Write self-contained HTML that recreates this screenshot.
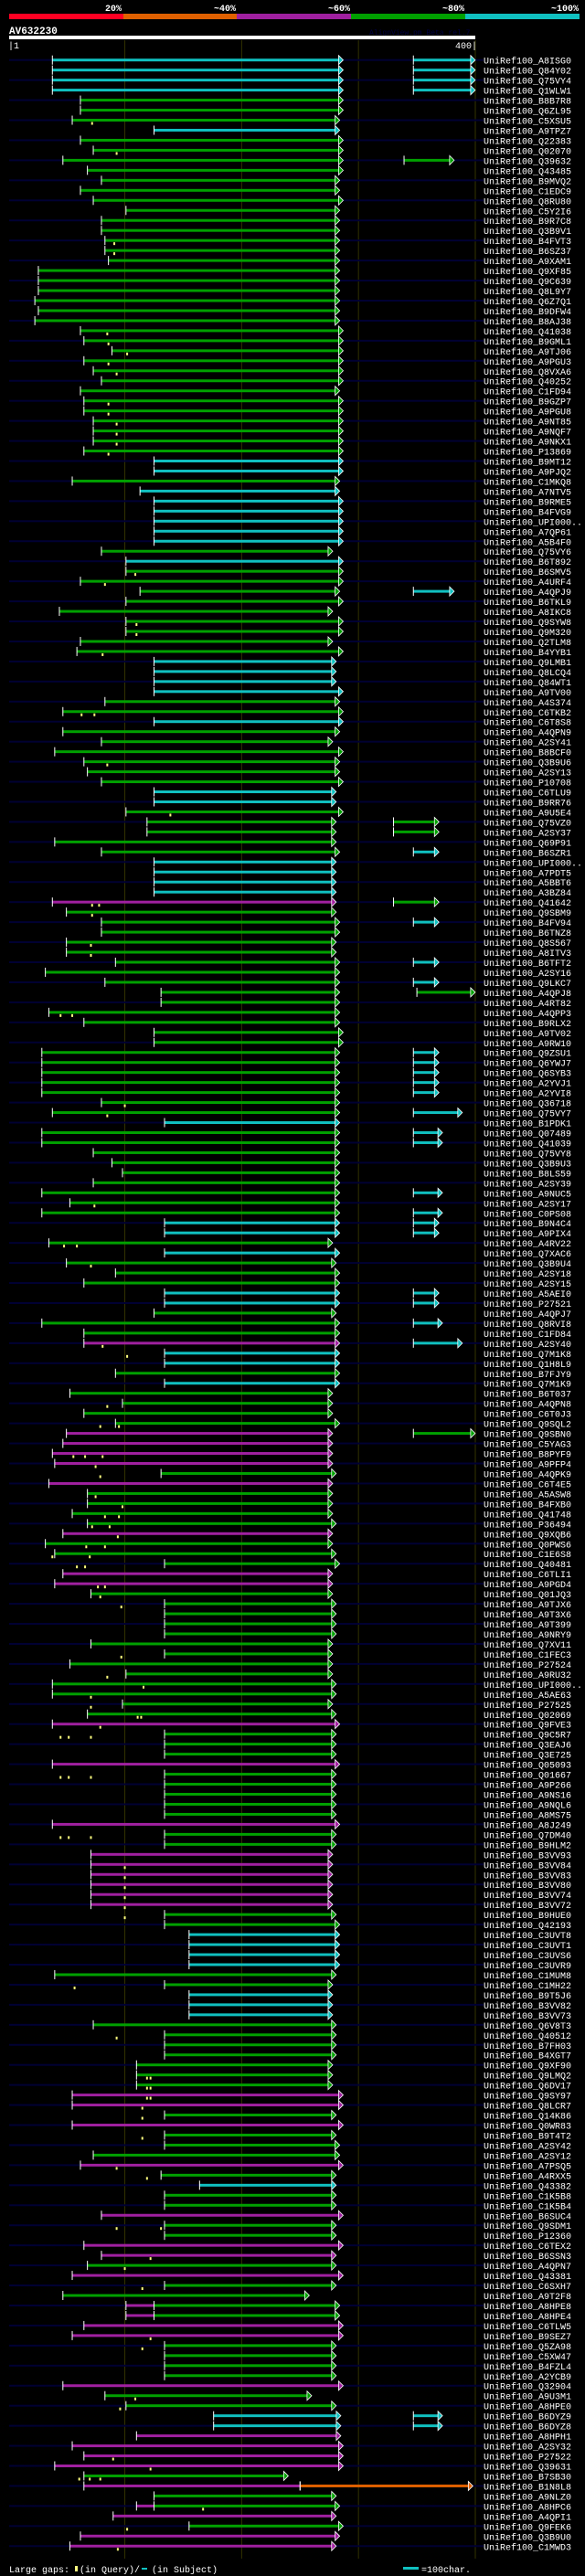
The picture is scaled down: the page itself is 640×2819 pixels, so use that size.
<!DOCTYPE html>
<html><head><meta charset="utf-8">
<style>
html,body{margin:0;padding:0;background:#000;}
body{width:640px;height:2819px;overflow:hidden;}
svg{display:block;}
text{font-family:"Liberation Mono",monospace;}
</style></head>
<body>
<svg id="chart" width="640" height="2819" viewBox="0 0 640 2819" xmlns="http://www.w3.org/2000/svg">
  <rect x="0" y="0" width="640" height="2819" fill="#000"/>
  <g>
    <rect x="10" y="15" width="125" height="6" fill="#ff0022"/>
    <rect x="135" y="15" width="124" height="6" fill="#e06000"/>
    <rect x="259" y="15" width="125" height="6" fill="#a020a0"/>
    <rect x="384" y="15" width="125" height="6" fill="#00a000"/>
    <rect x="509" y="15" width="125" height="6" fill="#10c0c0"/>
    <text x="133" y="12" fill="#fff" font-size="10" font-weight="bold" text-anchor="end">20%</text>
    <text x="258" y="12" fill="#fff" font-size="10" font-weight="bold" text-anchor="end">~40%</text>
    <text x="383" y="12" fill="#fff" font-size="10" font-weight="bold" text-anchor="end">~60%</text>
    <text x="508" y="12" fill="#fff" font-size="10" font-weight="bold" text-anchor="end">~80%</text>
    <text x="633" y="12" fill="#fff" font-size="10" font-weight="bold" text-anchor="end">~100%</text>
  </g>
  <text x="10" y="37" fill="#fff" font-size="11" font-weight="bold">AV632230</text>
  <text x="404" y="38" fill="#000044" font-size="8">AlignView.pm Beta rel.7</text>
  <rect x="10" y="39" width="510" height="4" fill="#fff"/>
  <text x="9" y="53" fill="#fff" font-size="10">|1</text>
  <text x="522" y="53" fill="#fff" font-size="10" text-anchor="end">400|</text>
  <g id="grid"></g>
  <g id="rows"></g>
  <g>
    <text x="10" y="2815" fill="#fff" font-size="10">Large gaps:</text>
    <rect x="82" y="2808" width="3" height="6" fill="#ffff80"/>
    <text x="87" y="2815" fill="#fff" font-size="10">(in Query)/</text>
    <rect x="155" y="2810" width="6" height="2" fill="#10c0c0"/>
    <text x="166" y="2815" fill="#fff" font-size="10">(in Subject)</text>
    <rect x="441" y="2809" width="17" height="3" fill="#10c0c0"/>
    <text x="461" y="2815" fill="#fff" font-size="10">=100char.</text>
  </g>
</svg>
<script>
const rowLabels = ["A8ISG0","Q84Y02","Q75VY4","Q1WLW1","B8B7R8","Q6ZL95","C5XSU5","A9TPZ7","Q22383","Q02070","Q39632","Q43485","B9MVQ2","C1EDC9","Q8RU80","C5Y2I6","B9R7C8","Q3B9V1","B4FVT3","B6SZ37","A9XAM1","Q9XF85","Q9C639","Q8L9Y7","Q6Z7Q1","B9DFW4","B8AJ38","Q41038","B9GML1","A9TJ06","A9PGU3","Q8VXA6","Q40252","C1FD94","B9GZP7","A9PGU8","A9NT85","A9NQF7","A9NKX1","P13869","B9MT12","A9PJQ2","C1MKQ8","A7NTV5","B9RME5","B4FVG9","UPI000..","A7QP61","A5B4F0","Q75VY6","B6T892","B6SMV5","A4URF4","A4QPJ9","B6TKL9","A8IKC8","Q9SYW8","Q9M320","Q2TLM8","B4YYB1","Q9LMB1","Q8LCQ4","Q84WT1","A9TV00","A4S374","C6TKB2","C6T8S8","A4QPN9","A2SY41","B8BCF0","Q3B9U6","A2SY13","P10708","C6TLU9","B9RR76","A9U5E4","Q75VZ0","A2SY37","Q69P91","B6SZR1","UPI000..","A7PDT5","A5BBT6","A3BZ84","Q41642","Q9SBM9","B4FV94","B6TNZ8","Q8S567","A8ITV3","B6TFT2","A2SY16","Q9LKC7","A4QPJ8","A4RT82","A4QPP3","B9RLX2","A9TV02","A9RW10","Q9ZSU1","Q6YWJ7","Q6SYB3","A2YVJ1","A2YVI8","Q36718","Q75VY7","B1PDK1","Q07489","Q41039","Q75VY8","Q3B9U3","B8LS59","A2SY39","A9NUC5","A2SY17","C0PS08","B9N4C4","A9PIX4","A4RV22","Q7XAC6","Q3B9U4","A2SY18","A2SY15","A5AEI0","P27521","A4QPJ7","Q8RVI8","C1FD84","A2SY40","Q7M1K8","Q1H8L9","B7FJY9","Q7M1K9","B6T037","A4QPN8","C6T0J3","Q9SQL2","Q9SBN0","C5YAG3","B8PYF9","A9PFP4","A4QPK9","C6T4E5","A5ASW8","B4FXB0","Q41748","P36494","Q9XQB6","Q0PWS6","C1E6S8","Q40481","C6TLI1","A9PGD4","Q01JQ3","A9TJX6","A9T3X6","A9T399","A9NRY9","Q7XV11","C1FEC3","P27524","A9RU32","UPI000..","A5AE63","P27525","Q02069","Q9FVE3","Q9C5R7","Q3EAJ6","Q3E725","Q05093","Q01667","A9P266","A9NS16","A9NQL6","A8MS75","A8J249","Q7DM40","B9HLM2","B3VV93","B3VV84","B3VV83","B3VV80","B3VV74","B3VV72","B9HUE0","Q42193","C3UVT8","C3UVT1","C3UVS6","C3UVR9","C1MUM8","C1MH22","B9T5J6","B3VV82","B3VV73","Q6V8T3","Q40512","B7FH03","B4XGT7","Q9XF90","Q9LMQ2","Q6DV17","Q9SY97","Q8LCR7","Q14K86","Q0WR83","B9T4T2","A2SY42","A2SY12","A7PSQ5","A4RXX5","Q43382","C1K5B8","C1K5B4","B6SUC4","Q9SDM1","P12360","C6TEX2","B6SSN3","A4QPN7","Q43381","C6SXH7","A9T2F8","A8HPE8","A8HPE4","C6TLW5","B9SEZ7","Q5ZA98","C5XW47","B4FZL4","A2YCB9","Q32904","A9U3M1","A8HPE0","B6DYZ9","B6DYZ8","A8HPH1","A2SY32","P27522","Q39631","B7SB30","B1N8L8","A9NLZ0","A8HPC6","A4QPI1","Q9FEK6","Q3B9U0","C1MWD3"];

const rowSegments = ["c38-283 c347-396","c38-283 c347-396","c38-283 c347-396","c38-283 c347-396","g62-283","g62-283","g55-280","c125-280","g62-283","g73-283","g47-283 g339-378","g68-283","g80-280","g62-280","g73-283","g101-280","g80-280","g80-280","g83-280","g83-280","g86-280","g26-280","g26-280","g26-280","g23-280","g26-280","g23-280","g62-283","g65-283","g89-283","g65-283","g73-283","g80-283","g62-280","g65-283","g65-283","g73-283","g73-283","g73-283","g65-283","c125-283","c125-283","g55-280","c113-280","c125-283","c125-283","c125-283","c125-283","c125-283","g80-274","c101-283","g101-283","g62-283","g113-280 c347-378","g101-283","g44-274","g101-283","g101-283","g62-274","g59-283","c125-277","c125-277","c125-277","c125-283","g83-280","g47-283","c125-283","g47-280","g80-274","g40-283","g65-280","g68-280","g80-283","c125-277","c125-277","g101-283","g119-277 g330-365","g119-277 g330-365","g40-277","g80-280 c347-365","c125-277","c125-277","c125-277","c125-277","m38-277 g330-365","g50-277","g80-280 c347-365","g80-280","g50-277","g50-277","g92-280 c347-365","g32-280","g83-280 c347-365","g131-280 g350-396","g131-280","g35-280","g65-280","g125-283","g125-283","g29-280 c347-365","g29-280 c347-365","g29-280 c347-365","g29-280 c347-365","g29-280 c347-365","g80-280","g38-280 c347-385","c134-280","g29-280 c347-368","g29-280 c347-368","g73-280","g89-280","g98-280","g73-280","g29-280 c347-368","g53-280","g29-280 c347-368","c134-280 c347-365","c134-280 c347-365","g35-274","c134-280","g50-277","g92-280","g65-280","c134-280 c347-365","c134-280 c347-365","g125-277","g29-280 c347-368","g65-280","m65-280 c347-385","c134-280","c134-280","g92-280","c134-280","g53-274","g98-274","g65-274","g92-280","m50-274 g347-396","m47-274","m38-274","m40-274","g131-277","m35-274","g68-274","g68-274","g55-274","g68-277","m47-274","g32-274","g40-277","g134-280","m47-274","m40-274","g71-274","g134-277","g134-277","g134-277","g134-277","g71-274","g134-274","g53-274","g101-274","g38-277","g38-277","g98-274","g68-277","m38-280","g134-277","g134-277","g134-277","m38-280","g134-277","g134-277","g134-277","g134-277","g134-277","m38-280","g134-277","g134-277","m71-274","m71-274","m71-274","m71-274","m71-274","m71-274","g134-277","g134-280","c155-280","c155-280","c155-280","c155-280","g40-277","g134-274","c155-274","c155-274","c155-274","g73-277","g134-277","g134-277","g134-277","g110-274","g110-274","g110-274","m55-283","m55-283","g134-277","m55-283","g134-277","g134-280","g73-280","m62-283","g131-277","c164-277","g134-277","g134-277","m80-283","g134-277","g134-277","m65-283","m80-277","g68-277","m55-283","g134-277","g47-254","m101-125 g125-280","m101-125 g125-280","m65-283","m55-283","g134-277","g134-277","g134-277","g134-277","m47-283","g83-256","g101-277","c176-281 c347-368","c176-281 c347-368","m110-281","m55-283","m65-283","m40-283","g65-236","m65-250 o250-394","g125-277","m110-125 g125-280","m90-277","g155-283","m62-280","m53-277"];

const rowGaps = ["","","","","","","72","","","93","","","","","","","","","91","91","","","","","","","","85","86","102","86","93","","","86","86","93","93","93","86","","","","","","","","","","","","109","83","","","","110","110","","81","","","","","","63 74","","","","","85","","","","","139","","","","","","","","","72 78","72","","","71","71","","","","","","45 55","","","","","","","","","100","85","","","","","","","","","74","","","","48 59","","71","","","","","","","","81","102","","","","","85","","79 95","","","56 66 81","75","79","","75","98","83 95","72 87","94","67 83","38 70","59 66","","77 83","79","97","","","","","97","","85","116","71","71","111 114","79","45 52 71","","","","45 52 71","","","","","","45 52 71","","","100","100","100","100","100","100","","","","","","","57","","","","","93","","","","119 122","119 122","119 122","115","115","","115","","","93","119","","","","","93 131","","","122","100","","115","","","","","122","115","","","","","109","96","","","","","90","122","61 70 79","","","167","","102","","94","77"];

const colorMap = {c:"#10c0c0", g:"#00a000", m:"#a020a0", o:"#e06000"};
const NS = "http://www.w3.org/2000/svg";
function xScale(p){ return 10 + (p - 1) * 510 / 399; }
function yScale(i){ return 65.7 + i * 10.97; }
function mk(tag, attrs, parent){
  const e = document.createElementNS(NS, tag);
  for (const k in attrs) e.setAttribute(k, attrs[k]);
  parent.appendChild(e);
  return e;
}

const grid = document.getElementById('grid');
[100, 200, 300, 400].forEach(function(p){
  const gl = mk('line', {x1: xScale(p), x2: xScale(p), y1: 44, y2: 2800, stroke: '#333300', 'stroke-width': 1}, grid);
  
  
});

const rowsG = document.getElementById('rows');
rowLabels.forEach(function(lab, i){
  const y = yScale(i);
  const g = mk('g', {}, rowsG);
  
  
  if (i % 2 === 0) {
    const bg = mk('rect', {x: 10, y: y - 1, width: 519, height: 2, fill: '#000033'}, g);
    
    
  }
  const segs = rowSegments[i].split(' ').filter(Boolean).map(function(s){
    const m = s.match(/^([cgmo])(\d+)-(\d+)$/);
    return {c: colorMap[m[1]], a: +m[2], b: +m[3]};
  });
  segs.forEach(function(s, k){
    const x1 = xScale(s.a), x2 = xScale(s.b);
    const bar = mk('rect', {x: x1, y: y - 1.5, width: x2 - x1, height: 3, fill: s.c}, g);
    
    
    const st = mk('rect', {x: x1 - 0.5, y: y - 5, width: 1, height: 10, fill: '#fff'}, g);
    
    
    const next = segs[k + 1];
    if (next && next.a === s.b) {
      const t = mk('rect', {x: x2 - 0.5, y: y - 5, width: 1, height: 10, fill: '#fff'}, g);
      
      
    } else {
      const ar = mk('polygon', {points: x2 + ',' + (y - 5) + ' ' + (x2 + 5) + ',' + y + ' ' + x2 + ',' + (y + 5), fill: s.c, stroke: '#fff', 'stroke-width': 0.8}, g);
      
      
    }
  });
  rowGaps[i].split(' ').filter(Boolean).forEach(function(p){
    const gx = xScale(+p);
    const gm = mk('rect', {x: gx - 1, y: y + 2, width: 2, height: 3, fill: '#ffff80'}, g);
    
    
  });
  const t = mk('text', {x: 529, y: y + 4, fill: '#fff', 'font-size': 10}, g);
  t.textContent = 'UniRef100_' + lab;
  
  
});
</script>
</body></html>
